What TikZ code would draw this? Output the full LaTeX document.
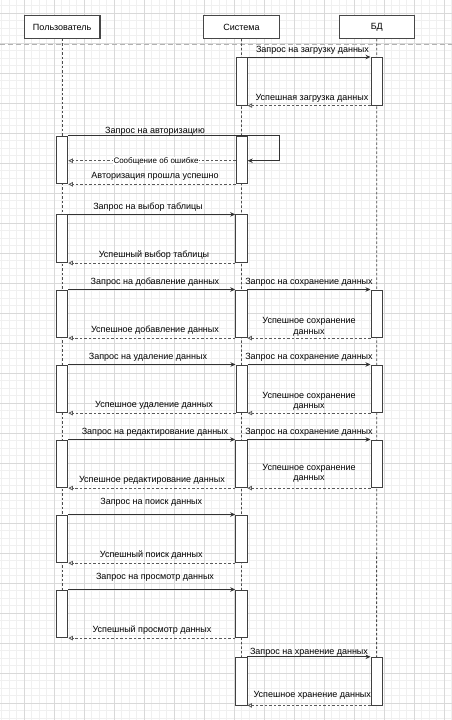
\documentclass[tikz,border=0pt]{standalone}
\usepackage{fontspec}
\setmainfont{Liberation Sans}
\usetikzlibrary{arrows.meta}
\begin{document}
\begin{tikzpicture}[x=1pt,y=-1pt,
  font=\fontsize{9}{10}\selectfont,
  header/.style={draw=black!72,line width=1.1pt,fill=white,minimum width=75.5pt,minimum height=22.6pt,inner sep=0pt},
  lifeline/.style={draw=black!70,line width=0.8pt,dash pattern=on 2.5pt off 2pt},
  act/.style={draw=black!75,line width=0.9pt,fill=white,minimum width=11.3pt,minimum height=47.7pt,inner sep=0pt},
  call/.style={draw=black!80,line width=0.8pt,-{Stealth[length=5pt,width=4.5pt]}},
  reply/.style={draw=black!65,line width=0.8pt,dash pattern=on 2.5pt off 2pt,-{Triangle[open,length=4.5pt,width=4.5pt]}},
  lbl/.style={inner sep=0pt,text=black},
  lbl2/.style={inner sep=0pt,text=black,align=center,font=\fontsize{9}{10.5}\selectfont}]

% canvas and background grid
\fill[white] (0,0) rectangle (452,720);
\useasboundingbox (0,0) rectangle (452,720);
\foreach \gx in {1.8,9.3,...,452}
  \draw[black!6,line width=0.9pt] (\gx,0) -- (\gx,720);
\foreach \gy in {5.8,13.3,...,720}
  \draw[black!6,line width=0.9pt] (0,\gy) -- (452,\gy);
\foreach \gx in {24.3,54.3,...,452}
  \draw[black!15,line width=0.7pt] (\gx,0) -- (\gx,720);
\foreach \gy in {13.3,43.3,...,720}
  \draw[black!15,line width=0.7pt] (0,\gy) -- (452,\gy);

% page separator
\coordinate (sepL) at (0,44.3);
\coordinate (sepR) at (452,44.3);
\draw[black!30,line width=0.8pt,dash pattern=on 5pt off 3pt] (sepL) -- (sepR);

% participants
\node[header] (user) at (62.2,27) {Пользователь};
\node[header] (sys) at (241.4,27) {Система};
\node[header] (db) at (376.8,27) {БД};

% lifeline ends
\coordinate (userEnd) at (62.2,637.7);
\coordinate (sysEnd) at (241.6,705);
\coordinate (dbEnd) at (376.6,705);
\draw[lifeline] (user.south) -- (userEnd);
\draw[lifeline] (sys.south) -- (sysEnd);
\draw[lifeline] (db.south) -- (dbEnd);

% activation bars
\node[act] (sA) at (241.6,81.3) {};
\node[act] (dA) at (376.6,81.3) {};
\node[act] (uB) at (62.2,160) {};
\node[act] (sB) at (241.6,160) {};
\node[act] (uC) at (62.2,238.7) {};
\node[act] (sC) at (241.3,238.7) {};
\node[act] (uD) at (62.2,313.8) {};
\node[act] (sD) at (241.3,313.8) {};
\node[act] (dD) at (376.6,313.8) {};
\node[act] (uE) at (62.2,388.8) {};
\node[act] (sE) at (241.6,388.8) {};
\node[act] (dE) at (376.6,388.8) {};
\node[act] (uF) at (62.2,463.8) {};
\node[act] (sF) at (241.3,463.8) {};
\node[act] (dF) at (376.6,463.8) {};
\node[act] (uG) at (62.2,538.8) {};
\node[act] (sG) at (241.3,538.8) {};
\node[act] (uH) at (62.2,613.8) {};
\node[act] (sH) at (241.3,613.8) {};
\node[act] (sI) at (241.3,681.1) {};
\node[act] (dI) at (376.6,681.1) {};

% data loading
\draw[call] (sA.north east) -- (dA.north west);
\node[lbl] at (312.5,50) {Запрос на загрузку данных};
\draw[reply] (dA.south west) -- (sA.south east);
\node[lbl] at (312,98) {Успешная загрузка данных};

% authorisation
\coordinate (loop) at (279,160.7);
\draw[call] (uB.north east) -| (loop) -- (loop -| sB.east);
\node[lbl] at (155,131.5) {Запрос на авторизацию};
\draw[reply] (loop -| sB.west) -- (loop -| uB.east);
\node[lbl,fill=white,inner sep=0.6pt,font=\fontsize{8}{9}\selectfont] at (156,161) {Сообщение об ошибке};
\draw[reply] (sB.south west) -- (uB.south east);
\node[lbl] at (155,176.5) {Авторизация прошла успешно};

% table selection
\draw[call] (uC.north east) -- (sC.north west);
\node[lbl] at (148,207) {Запрос на выбор таблицы};
\draw[reply] (sC.south west) -- (uC.south east);
\node[lbl] at (154,255) {Успешный выбор таблицы};

% adding data
\draw[call] (uD.north east) -- (sD.north west);
\node[lbl] at (155,282) {Запрос на добавление данных};
\draw[call] (sD.north east) -- (dD.north west);
\node[lbl] at (309,282) {Запрос на сохранение данных};
\draw[reply] (dD.south west) -- (sD.south east);
\node[lbl2] at (309,327) {Успешное сохранение\\данных};
\draw[reply] (sD.south west) -- (uD.south east);
\node[lbl] at (155,330) {Успешное добавление данных};

% deleting data
\draw[call] (uE.north east) -- (sE.north west);
\node[lbl] at (148,357) {Запрос на удаление данных};
\draw[call] (sE.north east) -- (dE.north west);
\node[lbl] at (309,357) {Запрос на сохранение данных};
\draw[reply] (dE.south west) -- (sE.south east);
\node[lbl2] at (309,401.5) {Успешное сохранение\\данных};
\draw[reply] (sE.south west) -- (uE.south east);
\node[lbl] at (154,405) {Успешное удаление данных};

% editing data
\draw[call] (uF.north east) -- (sF.north west);
\node[lbl] at (155,432) {Запрос на редактирование данных};
\draw[call] (sF.north east) -- (dF.north west);
\node[lbl] at (309,432) {Запрос на сохранение данных};
\draw[reply] (dF.south west) -- (sF.south east);
\node[lbl2] at (309,473.5) {Успешное сохранение\\данных};
\draw[reply] (sF.south west) -- (uF.south east);
\node[lbl] at (152,480) {Успешное редактирование данных};

% searching data
\draw[call] (uG.north east) -- (sG.north west);
\node[lbl] at (151.3,502.7) {Запрос на поиск данных};
\draw[reply] (sG.south west) -- (uG.south east);
\node[lbl] at (151.3,555) {Успешный поиск данных};

% viewing data
\draw[call] (uH.north east) -- (sH.north west);
\node[lbl] at (155,577.3) {Запрос на просмотр данных};
\draw[reply] (sH.south west) -- (uH.south east);
\node[lbl] at (152,630) {Успешный просмотр данных};

% storing data
\draw[call] (sI.north east) -- (dI.north west);
\node[lbl] at (309,652.7) {Запрос на хранение данных};
\draw[reply] (dI.south west) -- (sI.south east);
\node[lbl] at (312.3,695) {Успешное хранение данных};

\end{tikzpicture}
\end{document}
